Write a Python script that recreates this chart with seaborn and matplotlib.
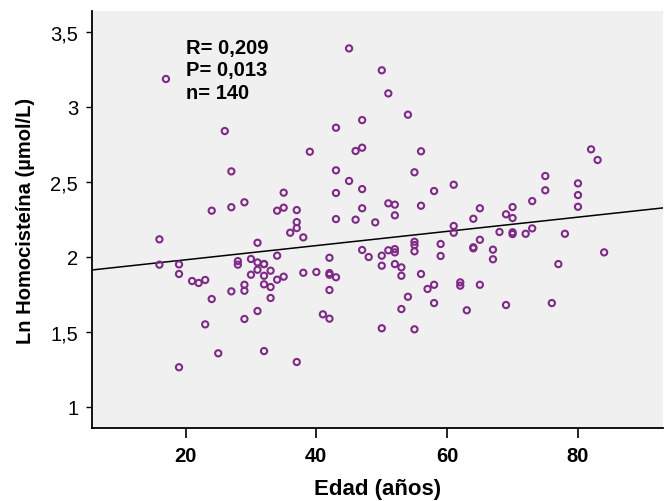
import matplotlib
matplotlib.use("Agg")
import matplotlib.pyplot as plt
import seaborn as sns
import numpy as np
import pandas as pd

# Age (years) and log homocysteine for each subject
edad = [17, 26, 45, 50, 47, 43, 39, 46, 47, 51, 54, 56, 82, 83, 27, 27, 24, 16, 16, 19,
        19, 21, 22, 23, 27, 24, 28, 28, 43, 45, 47, 35, 29, 34, 35, 37, 43, 47, 43, 46,
        49, 37, 37, 36, 38, 31, 47, 48, 50, 50, 34, 30, 31, 32, 42, 31, 30, 32, 33, 35,
        34, 38, 40, 42, 42, 43, 29, 29, 32, 33, 33, 42, 55, 61, 58, 51, 52, 56, 52, 65,
        64, 70, 69, 70, 61, 61, 68, 70, 70, 55, 55, 55, 52, 52, 51, 65, 59, 64, 64, 67,
        67, 59, 52, 53, 53, 56, 58, 57, 62, 62, 65, 54, 75, 75, 80, 80, 80, 73, 73, 72,
        78, 84, 77, 23, 25, 19, 31, 29, 41, 42, 50, 32, 37, 53, 58, 63, 69, 55, 76, 32]
ln_hcy = [3.185, 2.838, 3.389, 3.243, 2.911, 2.860, 2.700, 2.705, 2.727, 3.089,
          2.947, 2.703, 2.716, 2.645, 2.569, 2.330, 2.307, 2.116, 1.947, 1.949,
          1.885, 1.838, 1.825, 1.845, 1.769, 1.718, 1.971, 1.947, 2.576, 2.505,
          2.451, 2.427, 2.363, 2.307, 2.327, 2.311, 2.425, 2.323, 2.251, 2.247,
          2.229, 2.231, 2.191, 2.160, 2.129, 2.093, 2.045, 1.998, 2.007, 1.940,
          2.007, 1.985, 1.962, 1.951, 1.993, 1.913, 1.880, 1.873, 1.907, 1.867,
          1.847, 1.893, 1.898, 1.891, 1.880, 1.863, 1.813, 1.773, 1.816, 1.798,
          1.725, 1.778, 2.563, 2.480, 2.438, 2.356, 2.347, 2.340, 2.276, 2.323,
          2.253, 2.331, 2.283, 2.258, 2.205, 2.160, 2.165, 2.163, 2.151, 2.100,
          2.078, 2.036, 2.051, 2.029, 2.043, 2.113, 2.085, 2.063, 2.056, 2.047,
          1.983, 2.005, 1.951, 1.929, 1.873, 1.885, 1.813, 1.785, 1.829, 1.807,
          1.813, 1.733, 2.538, 2.443, 2.489, 2.411, 2.333, 2.371, 2.189, 2.153,
          2.153, 2.029, 1.951, 1.549, 1.356, 1.263, 1.638, 1.585, 1.616, 1.587,
          1.523, 1.371, 1.298, 1.651, 1.691, 1.643, 1.678, 1.516, 1.691, 1.951]

stats_lines = ["R= 0,209", "P= 0,013", "n= 140"]
x_ticks = [20, 40, 60, 80]
y_ticks = [1.0, 1.5, 2.0, 2.5, 3.0, 3.5]
y_tick_labels = ["1", "1,5", "2", "2,5", "3", "3,5"]

df = pd.DataFrame({"Edad": edad, "LnHcy": ln_hcy})

sns.set_theme(style="ticks")
plt.rcParams["font.family"] = ["Liberation Sans", "DejaVu Sans"]
plt.rcParams["text.color"] = "black"
plt.rcParams["axes.labelcolor"] = "black"
plt.rcParams["xtick.color"] = "black"
plt.rcParams["ytick.color"] = "black"

fig = plt.figure(figsize=(6.64, 5.02), dpi=100)
ax = fig.add_axes([0.1386, 0.1454, 0.8599, 0.8306])
ax.set_facecolor("#f0f0f0")

ax.set_xlim(5.7, 93.0)
ax.set_ylim(0.858, 3.638)

purple = "#7e2a86"
sns.scatterplot(data=df, x="Edad", y="LnHcy", ax=ax, marker="o", s=20,
                facecolor="none", edgecolor=purple, linewidth=1.5, zorder=3)

# Least-squares fit line across the full x range
sns.regplot(data=df, x="Edad", y="LnHcy", ax=ax, scatter=False, ci=None,
            truncate=False, line_kws={"color": "black", "linewidth": 1.1})

ax.set_xlim(5.7, 93.0)
ax.set_ylim(0.858, 3.638)

ax.set_xticks(x_ticks)
ax.set_xticklabels([str(t) for t in x_ticks], fontsize=14.5, fontweight="bold")
ax.set_yticks(y_ticks)
ax.set_yticklabels(y_tick_labels, fontsize=14.5)

for side in ["top", "right"]:
    ax.spines[side].set_visible(False)
for side in ["left", "bottom"]:
    ax.spines[side].set_color("black")
    ax.spines[side].set_linewidth(1.3)

ax.tick_params(axis="x", length=7, width=1.2, pad=6)
ax.tick_params(axis="y", length=4, width=1.0, pad=6)

ax.set_xlabel("Edad (años)", fontsize=16, fontweight="bold", labelpad=9)
ax.set_ylabel("Ln Homocisteína (µmol/L)", fontsize=14.5, fontweight="bold", labelpad=11)

ax.text(0.165, 0.935, "\n".join(stats_lines), transform=ax.transAxes,
        fontsize=14.5, fontweight="bold", va="top", ha="left", linespacing=1.22)

fig.savefig("out.png", dpi=100, facecolor="white")
